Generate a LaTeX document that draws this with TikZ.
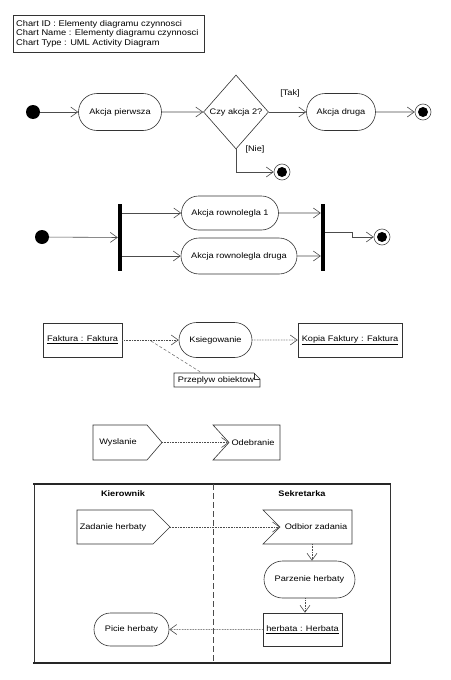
\documentclass[tikz,border=0pt]{standalone}
\usepackage{fontspec}
\setmainfont[FakeStretch=1.15]{Liberation Sans}
\newfontfamily\hdrfont[FakeStretch=1.12]{Liberation Sans}
\usetikzlibrary{arrows.meta,shapes.misc,shapes.geometric}
\begin{document}
\begin{tikzpicture}[x=1pt,y=-1pt, font=\fontsize{8}{9.7}\selectfont,
 nodeline/.style={draw=black!80, line width=0.6pt},
 act/.style={rounded rectangle, nodeline, fill=white, inner sep=1pt},
 obj/.style={rectangle, nodeline, fill=white, inner sep=1pt},
 flow/.style={draw=black!70, line width=0.6pt, -{Straight Barb[length=7pt,width=10pt]}},
 oflow/.style={flow, densely dotted},
 startn/.style={circle, fill=black, minimum size=14pt, inner sep=0pt},
 endn/.style={circle, draw=black!70, fill=white, minimum size=16pt, inner sep=0pt, line width=0.6pt,
   path picture={\fill[black] (path picture bounding box.center) circle (5pt);}},
 bar/.style={rectangle, fill=black, minimum width=4pt, minimum height=67pt, inner sep=0pt},
 lbl/.style={inner sep=1pt}
]
\useasboundingbox[fill=white] (0,0) rectangle (450,680);

% header
\node[draw=black!80, line width=0.6pt, minimum width=191pt, minimum height=37pt] (hdrbox) at (108.5,33.5) {};
\node[anchor=west, align=left, inner sep=0pt, font=\hdrfont\fontsize{8.3}{9.6}\selectfont] (hdr) at (16,33.5)
  {Chart ID : Elementy diagramu czynnosci\\Chart Name : Elementy diagramu czynnosci\\Chart Type : UML Activity Diagram};

% row 1
\node[startn] (s1) at (33,112) {};
\node[act, minimum width=85pt, minimum height=37pt] (a1) at (120,112) {Akcja pierwsza};
\node[diamond, nodeline, fill=white, minimum width=65pt, minimum height=74pt, inner sep=0pt] (d1) at (236,112) {Czy akcja 2?};
\node[act, minimum width=71pt, minimum height=37pt] (a2) at (341,112) {Akcja druga};
\node[endn] (e1) at (423,112) {};
\node[endn] (e2) at (282,172) {};
\draw[flow] (s1) -- (a1);
\draw[flow] (a1) -- (d1);
\draw[flow] (d1) -- (a2);
\node[lbl] (tak) at (290,93) {[Tak]};
\draw[flow] (a2) -- (e1);
\draw[flow] (d1.south) |- (e2);
\node[lbl] (nie) at (255,149) {[Nie]};

% row 2
\node[startn] (s2) at (42,237) {};
\node[bar] (f1) at (120,237.5) {};
\node[act, minimum width=99pt, minimum height=34pt] (r1) at (230,213) {Akcja rownolegla 1};
\node[act, minimum width=118pt, minimum height=36pt] (r2) at (239,256) {Akcja rownolegla druga};
\node[bar] (j1) at (323,237.5) {};
\node[endn] (e3) at (382,237) {};
\coordinate (jk1) at (352,232);
\coordinate (jk2) at (352,237);
\draw[flow] (s2) -- (f1);
\draw[flow] (f1.east |- r1) -- (r1);
\draw[flow] (f1.east |- r2) -- (r2);
\draw[flow] (r1) -- (j1.west |- r1);
\draw[flow] (r2) -- (j1.west |- r2);
\draw[flow] (j1.east |- jk1) -- (jk1) -- (jk2) -- (e3);

% row 3
\node[obj, minimum width=79pt, minimum height=34pt] (fk) at (82.5,340) {\underline{Faktura : Faktura}};
\node[act, minimum width=75pt, minimum height=35pt] (ks) at (215.5,340) {Ksiegowanie};
\node[obj, minimum width=104pt, minimum height=34pt] (kp) at (350,340) {\underline{Kopia Faktury : Faktura}};
\draw[oflow] (fk) -- (ks);
\draw[oflow] (ks) -- (kp);
\coordinate (nl) at (151,341);
\coordinate (nt) at (202,373);
\draw[black!60, line width=0.5pt, densely dashed] (nl) -- (nt);
\draw[nodeline, fill=white] (174,373) -- (254,373) -- (260,379) -- (260,387) -- (174,387) -- cycle;
\draw[nodeline, line width=0.4pt] (254,373) -- (254,379) -- (260,379);
\node[inner sep=0pt] (note) at (216,380.5) {Przeplyw obiektow};

% row 4
\draw[nodeline, fill=white] (93,425) -- (147,425) -- (162,442.5) -- (147,460) -- (93,460) -- cycle;
\node[lbl] (wy) at (118,442.5) {Wyslanie};
\coordinate (wyt) at (162,442.5);
\draw[nodeline, fill=white] (213,425) -- (280,425) -- (280,460) -- (213,460) -- (229,442.5) -- cycle;
\node[lbl] (od) at (253,442.5) {Odebranie};
\coordinate (odn) at (229,442.5);
\draw[oflow] (wyt) -- (odn);

% swimlanes
\draw[black!80, line width=0.6pt] (34,484) -- (34,663);
\draw[black!80, line width=0.6pt] (390,484) -- (390,663);
\draw[black!85, line width=1.5pt] (33.4,484) -- (390.6,484);
\draw[black!85, line width=1.5pt] (33.4,663) -- (390.6,663);
\draw[black!70, line width=0.6pt, dash pattern=on 6pt off 3pt] (213,484) -- (213,663);
\node[lbl, font=\fontsize{8}{9.7}\selectfont\bfseries] (kier) at (123,494) {Kierownik};
\node[lbl, font=\fontsize{8}{9.7}\selectfont\bfseries] (sek) at (302,494) {Sekretarka};

\draw[nodeline, fill=white] (77,510) -- (153,510) -- (170,527) -- (153,544) -- (77,544) -- cycle;
\node[lbl] (zh) at (113,527) {Zadanie herbaty};
\coordinate (zht) at (170,527);
\draw[nodeline, fill=white] (263,510) -- (352,510) -- (352,544) -- (263,544) -- (280,527) -- cycle;
\node[lbl] (oz) at (316,527) {Odbior zadania};
\coordinate (ozn) at (280,527);
\draw[oflow] (zht) -- (ozn);

\node[act, minimum width=93pt, minimum height=37pt] (ph) at (309.5,579.5) {Parzenie herbaty};
\node[obj, minimum width=79pt, minimum height=33pt] (hb) at (302.5,629.5) {\underline{herbata : Herbata}};
\node[act, minimum width=77pt, minimum height=33pt] (pi) at (131.5,629.5) {Picie herbaty};
\coordinate (ozb) at (312,544);
\coordinate (c305) at (305,600);
\draw[oflow] (ozb) -- (ph.north -| ozb);
\draw[oflow] (ph.south -| c305) -- (hb.north -| c305);
\draw[oflow] (hb) -- (pi);
\end{tikzpicture}
\end{document}
